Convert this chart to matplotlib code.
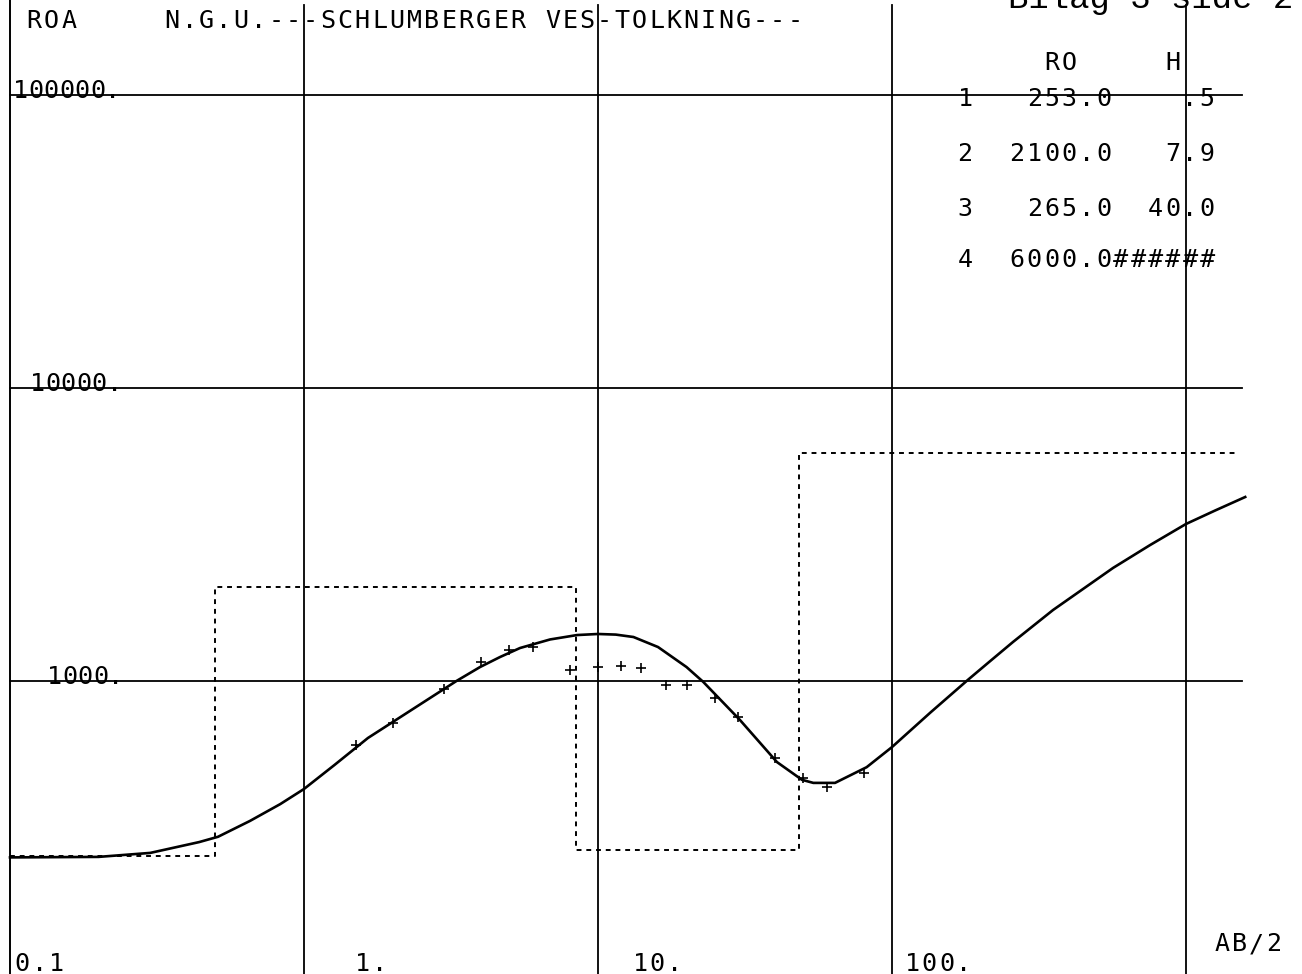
import numpy as np
import matplotlib
matplotlib.use('Agg')
import matplotlib.pyplot as plt

# layered model (RO = resistivity, H = thickness)
ro = [253.0, 2100.0, 265.0, 6000.0]
h = [0.5, 7.9, 40.0]

# field data, AB/2 vs apparent resistivity
ab2_obs = [1.5, 2, 3, 4, 5, 6, 8, 10, 12, 14, 17, 20, 25, 30, 40, 50, 60, 80]
roa_obs = [605, 719, 939, 1161, 1276, 1306, 1090, 1116, 1125, 1107, 969, 969,
           875, 753, 546, 467, 435, 485]

# computed model curve
ab2_calc = [0.1, 0.2, 0.3, 0.44, 0.51, 0.655, 0.83, 1.0, 1.27, 1.65, 3.3,
            3.97, 4.64, 5.43, 6.87, 8.49, 10, 11.5, 13.2, 16, 20, 22.8, 30.4,
            40.6, 49.4, 54, 64, 82, 100, 135, 181, 215, 258, 353, 565, 755,
            1000, 1256, 1590]
roa_calc = [250, 251, 259, 282, 294, 333, 380, 428, 517, 639, 1000,
            1116, 1207, 1296, 1386, 1435, 1447, 1440, 1413, 1306, 1116, 993,
            736, 529, 460, 449, 449, 508, 595, 780, 1008, 1166, 1359, 1747,
            2432, 2911, 3435, 3818, 4246]

xgrid = [1, 10, 100, 1000]
ygrid = [1000, 10000, 100000]
ylabels = ['1000.', '10000.', '100000.']
xlabels = ['0.1', '1.', '10.', '100.']

W, H = 1302, 974
fig = plt.figure(figsize=(W / 100, H / 100), dpi=100)
ax = fig.add_axes([0, 0, 1, 1])
ax.set_xscale('log')
ax.set_yscale('log')
ax.set_xlim(10 ** (-1 - 10 / 294), 10 ** (-1 + 1292 / 294))
ax.set_ylim(100, 10 ** (3 + 681 / 293))
ax.axis('off')

# grid
ax.axvline(0.1, color='black', lw=1.4)
for xv in xgrid:
    ax.axvline(xv, ymax=1 - 5 / H, color='black', lw=1.3)
for yv in ygrid:
    ax.plot([0.1, 1550], [yv, yv], color='black', lw=1.3)

# model as steps
depth = np.cumsum(h)
xs = [0.1] + list(depth) + [1500]
ys = ro + [ro[-1]]
ax.plot(xs, ys, drawstyle='steps-post', color='black', lw=1.4,
        linestyle=(0, (2.5, 2.5)))

# curve and data
ax.plot(ab2_calc, roa_calc, color='black', lw=1.9)
ax.plot(ab2_obs, roa_obs, '+', color='black', ms=7, mew=1.2)

def plot_text(x, y, s, size=18, pitch=17.3):
    # plotter style: fixed character pitch, x = left of first glyph, y = baseline (px from top)
    for i, ch in enumerate(s):
        if ch == ' ':
            continue
        fig.text((x + 7 + i * pitch) / W, 1 - y / H, ch, fontsize=size,
                 family='DejaVu Sans Mono', ha='center', va='baseline')

plot_text(27, 28, 'ROA')
plot_text(165, 28, 'N.G.U.---SCHLUMBERGER VES-TOLKNING---')

# y labels, text sits on its line
for yv, xp, lab in zip([681, 388, 95], [47, 30, 13], ylabels):
    plot_text(xp, yv + 3, lab, pitch=15.5)

# x labels
for xp, lab in zip([15, 355, 633, 905], xlabels):
    plot_text(xp, 971, lab)
plot_text(1215, 951, 'AB/2')

# parameter table
plot_text(958, 70, '     RO     H')
plot_text(958, 106, '1   %5.1f    .5' % ro[0])
plot_text(958, 161, '2  %6.1f   7.9' % ro[1])
plot_text(958, 216, '3   %5.1f  40.0' % ro[2])
plot_text(958, 267, '4  %6.1f######' % ro[3])

fig.text(1008 / W, 1 - 8 / H, 'Bilag 3 side 2', fontsize=24.5,
         family='Liberation Mono', ha='left', va='baseline')

fig.savefig('out.png', dpi=100)
